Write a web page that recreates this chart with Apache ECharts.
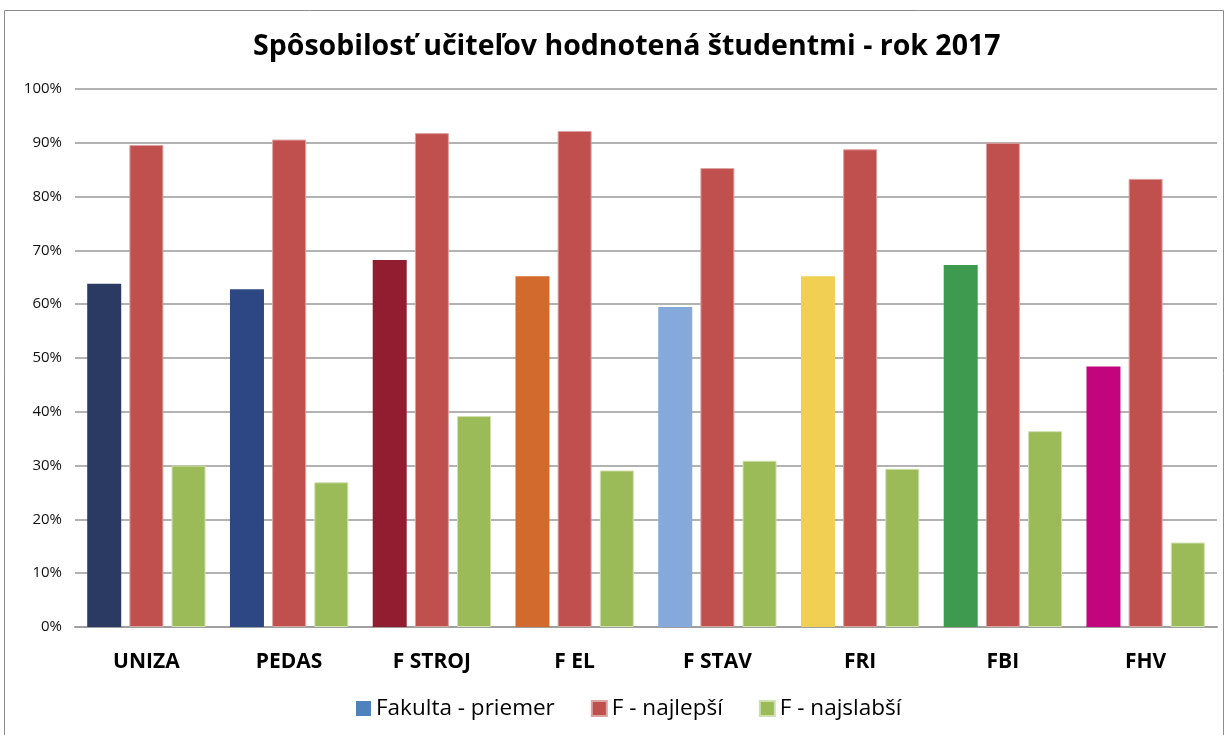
<!DOCTYPE html>
<html>
<head>
<meta charset="utf-8">
<title>Spôsobilosť učiteľov</title>
<script src="https://cdn.jsdelivr.net/npm/echarts@6/dist/echarts.min.js"></script>
<style>
  html, body { margin: 0; padding: 0; background: #fff; }
  #chart { width: 1227px; height: 735px; }
</style>
</head>
<body>
<div id="chart"></div>
<script>
// fakulty
var categories = ['UNIZA', 'PEDAS', 'F STROJ', 'F EL', 'F STAV', 'FRI', 'FBI', 'FHV'];
var seriesNames = ['Fakulta - priemer', 'F - najlepší', 'F - najslabší'];

// hodnoty v %
var priemer = [63.8, 62.8, 68.2, 65.2, 59.5, 65.2, 67.3, 48.4];
var najlepsi = [89.6, 90.6, 91.8, 92.2, 85.3, 88.8, 90.0, 83.3];
var najslabsi = [30.0, 26.9, 39.2, 29.1, 30.9, 29.4, 36.4, 15.7];

var yTicks = [0, 10, 20, 30, 40, 50, 60, 70, 80, 90, 100];

// farby fakult (prvy rad)
var facultyColors = ['#2B3A63', '#2C4784', '#921D30', '#D26A2E', '#84A9DA', '#F0CF52', '#3E9A4F', '#C3057D'];

var chart = echarts.init(document.getElementById('chart'));

var font = 'Open Sans, Noto Sans, sans-serif';

var option = {
  backgroundColor: '#fff',
  animation: false,
  title: {
    text: 'Spôsobilosť učiteľov hodnotená študentmi - rok 2017',
    left: 248,
    top: 27,
    textStyle: { fontFamily: font, fontSize: 28.5, fontWeight: 'bold', color: '#000' }
  },
  legend: {
    bottom: 10,
    left: 351,
    itemWidth: 15,
    itemHeight: 15,
    itemGap: 36,
    icon: 'rect',
    textStyle: { fontFamily: font, fontSize: 22.5, color: '#000' },
    data: [
      { name: seriesNames[0], itemStyle: { color: '#4F81BD' } },
      { name: seriesNames[1], itemStyle: { color: '#C0504D' } },
      { name: seriesNames[2], itemStyle: { color: '#9BBB59' } }
    ]
  },
  grid: { left: 75, right: 10, top: 89, bottom: 108, containLabel: false },
  xAxis: {
    type: 'category',
    data: categories,
    axisLine: { lineStyle: { color: '#9f9f9f', width: 2 } },
    axisTick: { show: false },
    axisLabel: { fontFamily: font, fontSize: 21, fontWeight: 'bold', color: '#000', margin: 25 }
  },
  yAxis: {
    type: 'value',
    min: 0,
    max: 100,
    interval: 10,
    axisLine: { show: false },
    axisTick: { show: false },
    axisLabel: {
      fontFamily: font, fontSize: 15, color: '#111', margin: 13,
      formatter: function (v) { return yTicks.indexOf(v) >= 0 ? v + '%' : ''; }
    },
    splitLine: { lineStyle: { color: '#999999', width: 1.5 } }
  },
  graphic: [{
    type: 'rect',
    shape: { x: 4.5, y: 10.5, width: 1219, height: 740 },
    style: { fill: 'none', stroke: '#8c8c8c', lineWidth: 1 },
    silent: true
  }],
  series: [
    {
      name: seriesNames[0],
      type: 'bar',
      barWidth: 34,
      barGap: '24%',
      data: priemer.map(function (v, i) {
        return { value: v, itemStyle: { color: facultyColors[i] } };
      })
    },
    {
      name: seriesNames[1],
      type: 'bar',
      barWidth: 34,
      barGap: '24%',
      itemStyle: { color: '#C0504D', borderColor: '#dba3a1', borderWidth: 1 },
      data: najlepsi
    },
    {
      name: seriesNames[2],
      type: 'bar',
      barWidth: 34,
      barGap: '24%',
      itemStyle: { color: '#9BBB59', borderColor: '#cfe0ad', borderWidth: 1 },
      data: najslabsi
    }
  ]
};

chart.setOption(option);
</script>
</body>
</html>
